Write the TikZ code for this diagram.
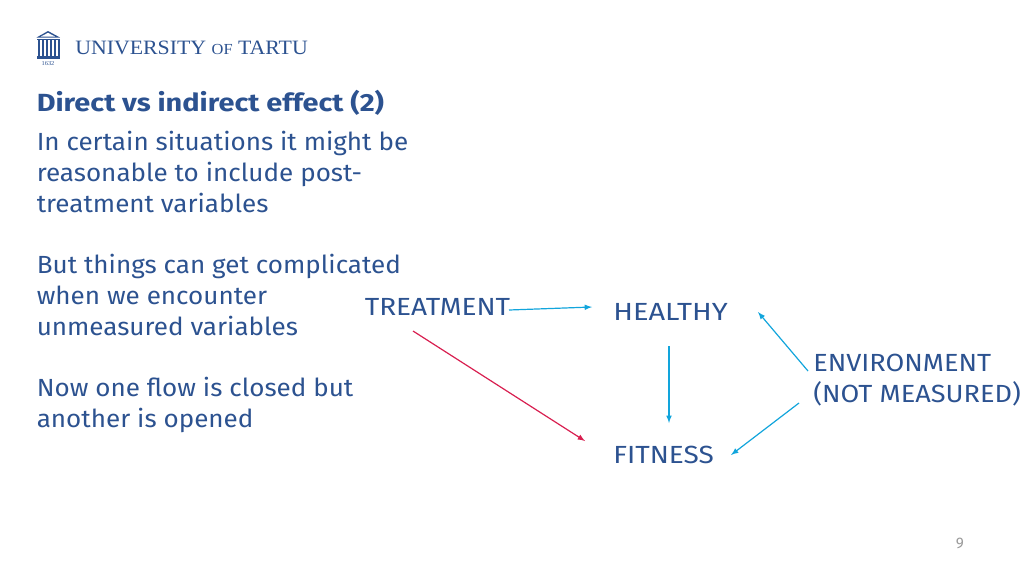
\documentclass[tikz,border=0pt]{standalone}
\usepackage{fontspec}
\setmainfont{Fira Sans}
\newfontfamily\logofont[FakeStretch=1.07]{Liberation Serif}
\newfontfamily\bodyfont[FakeStretch=1.05]{Fira Sans}
\newfontfamily\varfont[FakeStretch=1.13]{Fira Sans}
\newfontfamily\wideVarfont[FakeStretch=1.17]{Fira Sans}
\newfontfamily\envfont[FakeStretch=1.095]{Fira Sans}
\newfontfamily\titlefont[FakeStretch=1.165]{Fira Sans Bold}
\definecolor{utblue}{HTML}{2C5290}
\definecolor{arrowcyan}{HTML}{12A5DC}
\definecolor{arrowred}{HTML}{D81F50}
\definecolor{pagegray}{HTML}{9A9A9A}
\begin{document}
\begin{tikzpicture}[
        x=0.75pt, y=-0.75pt,
        body/.style={inner sep=0pt, anchor=base west, align=left, text=utblue, font=\bodyfont\fontsize{18.6}{23}\selectfont},
        var/.style={inner sep=0pt, anchor=base west, align=left, text=utblue, font=\varfont\fontsize{18.6}{23}\selectfont},
        link/.style={-latex, arrowcyan, line width=0.9pt},
        direct/.style={-latex, arrowred, line width=0.9pt}
    ]
        \useasboundingbox (0,0) rectangle (1024,576);

        % Logo
        \fill[utblue] (36.5,37.5) -- (48,31) -- (60,37.5) -- cycle;
        \fill[white] (41,36.5) -- (48,32.8) -- (55,36.5) -- cycle;
        \fill[utblue] (36.5,38.5) rectangle (60,40);
        \foreach \x in {37.5,41.5,45.5,49.5,53.5,57.5}
            \fill[utblue] (\x,40) rectangle (\x+2,56);
        \fill[utblue] (36.5,56) rectangle (60,59);
        \node[inner sep=0pt, text=utblue, font=\logofont\fontsize{4.5}{5}\selectfont] (year) at (48,63.5) {1632};
        \node[inner sep=0pt, anchor=base west, text=utblue, font=\logofont\fontsize{15.3}{18}\selectfont] (uni) at (75,54.5)
            {UNIVERSITY {\fontsize{11.5}{14}\selectfont OF} TARTU};

        % Title and text
        \node[inner sep=0pt, anchor=base west, text=utblue, font=\titlefont\fontsize{18.6}{23}\selectfont] (title) at (36.5,111) {Direct vs indirect effect (2)};
        \node[body] (para1) at (36.5,212) {In certain situations it might be\\reasonable to include post-\\treatment variables};
        \node[body] (para2) at (36.5,335) {But things can get complicated\\when we encounter\\unmeasured variables};
        \node[body] (para3) at (36.5,427) {Now one flow is closed but\\another is opened};

        % Variables
        \node[var] (treatment) at (364.5,315) {TREATMENT};
        \node[var, font=\wideVarfont\fontsize{18.6}{23}\selectfont] (healthy) at (613,320.5) {HEALTHY};
        \node[var] (fitness) at (613,463) {FITNESS};
        \node[var, font=\envfont\fontsize{18.6}{23}\selectfont] (environment) at (813,402.5) {ENVIRONMENT\\(NOT MEASURED)};

        \node[inner sep=0pt, text=pagegray, font=\fontsize{11.5}{14}\selectfont] (page) at (960,543.5) {9};

        % Arrows
        \coordinate (tstart) at (509,310);
        \coordinate (hin) at (592,307);
        \coordinate (dstart) at (413,331);
        \coordinate (fin) at (585,441);
        \coordinate (hout) at (669,346);
        \coordinate (fdown) at (669,423);
        \coordinate (eup) at (808,371);
        \coordinate (hback) at (758,312);
        \coordinate (edown) at (799,403);
        \coordinate (fback) at (731,455);
        \draw[link] (tstart) -- (hin);
        \draw[direct] (dstart) -- (fin);
        \draw[link] (hout) -- (fdown);
        \draw[link] (eup) -- (hback);
        \draw[link] (edown) -- (fback);
    \end{tikzpicture}
\end{document}
